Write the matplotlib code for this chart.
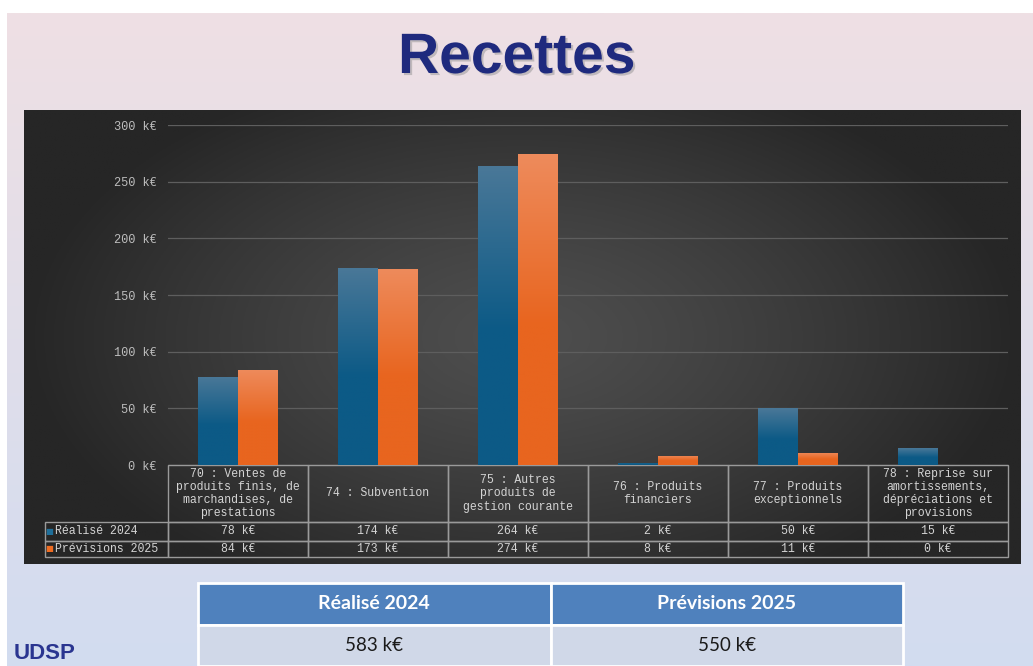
import numpy as np
import matplotlib
matplotlib.use("Agg")
import matplotlib.pyplot as plt
import matplotlib.patheffects as pe
from matplotlib.colors import to_rgb

W, H = 1033, 666

categories = [
    "70 : Ventes de\nproduits finis, de\nmarchandises, de\nprestations",
    "74 : Subvention",
    "75 : Autres\nproduits de\ngestion courante",
    "76 : Produits\nfinanciers",
    "77 : Produits\nexceptionnels",
    "78 : Reprise sur\namortissements,\ndépréciations et\nprovisions",
]
series_names = ["Réalisé 2024", "Prévisions 2025"]
realise_2024 = [78, 174, 264, 2, 50, 15]
previsions_2025 = [84, 173, 274, 8, 11, 0]
totals = [583, 550]
y_ticks = [0, 50, 100, 150, 200, 250, 300]

MONO = "Liberation Mono"
TXT = "#d4d4d4"


def px(x0, y0, x1, y1):
    # pixel box (top-left origin) -> figure fraction rect
    return [x0 / W, 1 - y1 / H, (x1 - x0) / W, (y1 - y0) / H]


def vgrad(c_top, c_bot, n=256, split=0.55):
    t = np.linspace(0, 1, n)
    t = np.clip(t / split, 0, 1)[:, None, None]
    a, b = np.array(to_rgb(c_top)), np.array(to_rgb(c_bot))
    return a * (1 - t) + b * t


fig = plt.figure(figsize=(W / 100, H / 100), dpi=100)
fig.patch.set_facecolor("white")

# slide background
bg = fig.add_axes(px(7, 13, W, H))
bg.axis("off")
bg.imshow(vgrad("#efe0e4", "#d2dcf0", split=1.0), aspect="auto", extent=[0, 1, 0, 1])
bg.set_xlim(0, 1)
bg.set_ylim(0, 1)

# dark chart panel
panel = fig.add_axes(px(24, 110, 1021, 564))
panel.axis("off")
yy, xx = np.mgrid[-1:1:200j, -1:1:400j]
r = np.clip(np.hypot(xx, yy * 0.8), 0, 1) ** 1.3
c_in, c_out = np.array(to_rgb("#4e4e4e")), np.array(to_rgb("#262626"))
panel.imshow(c_in * (1 - r[..., None]) + c_out * r[..., None], aspect="auto",
             extent=[0, 1, 0, 1])
panel.set_xlim(0, 1)
panel.set_ylim(0, 1)

# bars
ax = fig.add_axes(px(168, 125, 1008, 465))
ax.set_facecolor("none")
x = np.arange(len(categories))
w = 0.2857
b1 = ax.bar(x - w / 2, realise_2024, w, color="#125f8a", zorder=2)
b2 = ax.bar(x + w / 2, previsions_2025, w, color="#e8661f", zorder=2)
for bars, ctop, cbot in [(b1, "#4a7898", "#0c5a86"), (b2, "#ee8b5c", "#e8651f")]:
    g = vgrad(ctop, cbot)
    for rect in bars:
        h = rect.get_height()
        if h <= 0:
            continue
        x0 = rect.get_x()
        im = ax.imshow(g, aspect="auto", extent=[x0, x0 + rect.get_width(), 0, h], zorder=2.1)
        im.set_clip_path(rect)

ax.set_xlim(-0.5, len(categories) - 0.5)
ax.set_ylim(0, 300)
ax.set_xticks([])
ax.set_yticks(y_ticks)
ax.set_yticklabels([f"{v} k€" for v in y_ticks], family=MONO, fontsize=8.6, color="#bdbdbd")
ax.tick_params(axis="y", length=0, pad=8)
ax.yaxis.grid(True, color="#5e5e5e", lw=0.9)
ax.set_axisbelow(True)
for s in ax.spines.values():
    s.set_visible(False)

# data table under the bars (first column holds the series names)
lab_w = 123 / 840
cell_text = [[series_names[0]] + [f"{v} k€" for v in realise_2024],
             [series_names[1]] + [f"{v} k€" for v in previsions_2025]]
tbl = ax.table(cellText=cell_text, colLabels=[""] + categories,
               colWidths=[lab_w] + [1 / 6] * 6, cellLoc="center", colLoc="center",
               bbox=[-lab_w, -92 / 340, 1 + lab_w, 92 / 340])
tbl.auto_set_font_size(False)
tbl.set_fontsize(8.3)
row_h = {0: 57 / 340, 1: 19 / 340, 2: 16 / 340}
for (rr, cc), cell in tbl.get_celld().items():
    cell.set_height(row_h[rr])
    cell.set_facecolor("none")
    cell.set_edgecolor("#9a9a9a")
    cell.set_linewidth(1.0)
    t = cell.get_text()
    t.set_color(TXT)
    t.set_family(MONO)
    t.set_linespacing(1.13)
    if cc == 0:
        if rr == 0:
            cell.visible_edges = ""
        else:
            t.set_horizontalalignment("left")
            cell.PAD = 0.085

# legend keys in the row-label cells
for yc, col in [(-66.5 / 340, "#1f6f9a"), (-84 / 340, "#ee6c22")]:
    ax.text(-119 / 840, yc, "■", transform=ax.transAxes, ha="center", va="center",
            fontsize=6, color=col, family="DejaVu Sans", clip_on=False)

# title
fig.text(517 / W, 1 - 73 / H, "Recettes", ha="center", va="baseline", fontsize=41,
         weight="bold", color="#1f2a7e", family="Liberation Sans",
         path_effects=[pe.withSimplePatchShadow(offset=(1.5, -1.5), shadow_rgbFace="#8a8a8a", alpha=0.45)])

# totals table
tax = fig.add_axes(px(198, 583, 903, 666))
tax.axis("off")
tbl2 = tax.table(cellText=[[f"{v} k€" for v in totals]], colLabels=series_names,
                 cellLoc="center", colLoc="center", bbox=[0, 0, 1, 1])
tbl2.auto_set_font_size(False)
for (rr, cc), cell in tbl2.get_celld().items():
    cell.set_edgecolor("white")
    cell.set_linewidth(2)
    t = cell.get_text()
    t.set_family("Lato")
    if rr == 0:
        cell.set_facecolor("#4f81bd")
        t.set_color("white")
        t.set_weight("bold")
        t.set_fontsize(14)
    else:
        cell.set_facecolor("#d0d8e8")
        t.set_color("#1a1a1a")
        t.set_fontsize(13.5)

fig.text(14 / W, 1 - 659 / H, "UDSP", ha="left", va="baseline", fontsize=16, weight="bold",
         color="#2a3590", family="Liberation Sans")

fig.savefig("out.png", dpi=100)
